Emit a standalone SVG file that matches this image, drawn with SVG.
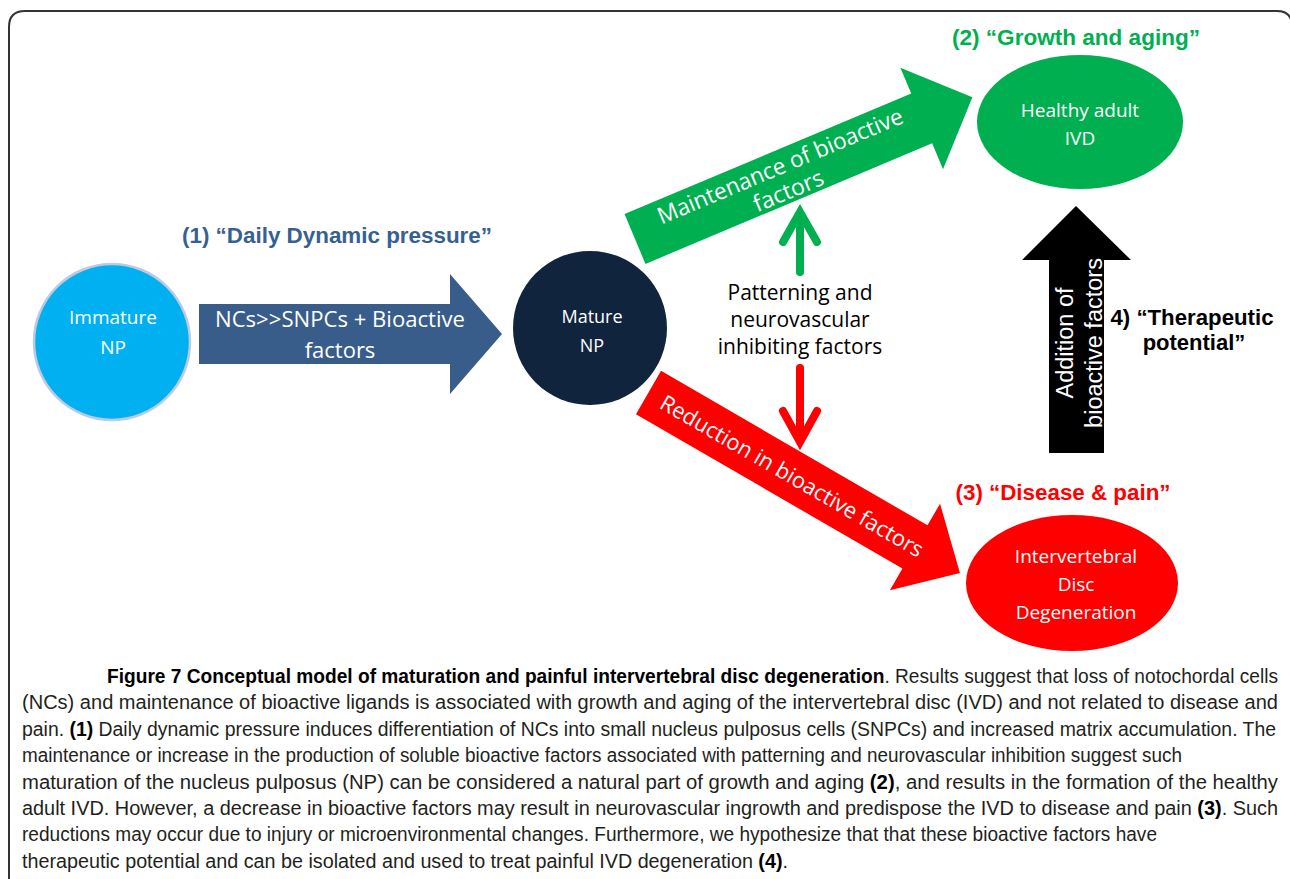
<svg xmlns="http://www.w3.org/2000/svg" width="1290" height="879" viewBox="0 0 1290 879">
<style>
.lbl{font-family:"Open Sans","Noto Sans",sans-serif;fill:#fff;text-anchor:middle}
.hdr{font-family:"Liberation Sans",Arial,sans-serif;font-weight:bold;text-anchor:middle}
.vt{font-family:"Liberation Sans",Arial,sans-serif;fill:#fff;text-anchor:middle;font-size:23.5px}
.cap{font-family:"Liberation Sans Narrow","Liberation Sans",Arial,sans-serif;font-size:19.5px;fill:#231f20}
.cap tspan.b{font-weight:bold;fill:#000}
.dark{fill:#000}
</style>
<rect width="1290" height="879" fill="#fff"/>
<path d="M9,879 V27 Q9,11 25,11 H1277 Q1292,11 1292,26 V879" fill="none" stroke="#333" stroke-width="2"/>

<g id="connectors">
  <g id="arrow-blue">
    <polygon points="199,304 450,304 450,274 502,334 450,394 450,364 199,364" fill="#385d8a"/>
    <text class="lbl" x="340" y="327" font-size="22" textLength="250" lengthAdjust="spacingAndGlyphs">NCs&gt;&gt;SNPCs + Bioactive</text>
    <text class="lbl" x="340" y="358" font-size="22">factors</text>
  </g>
  <g id="arrow-green" transform="translate(635,239) rotate(-22.8)">
    <path d="M0,-27 H311 V-55 L366,0 L311,55 V27 H0 Z" fill="#00b050"/>
    <text class="lbl" x="162" y="-3" font-size="23" textLength="264" lengthAdjust="spacingAndGlyphs">Maintenance of bioactive</text>
    <text class="lbl" x="160" y="23" font-size="23">factors</text>
  </g>
  <g id="arrow-red" transform="translate(648.5,392.5) rotate(30.1)">
    <path d="M0,-25 H308 V-50 L360,0 L308,50 V25 H0 Z" fill="#ff0000"/>
    <text class="lbl" x="166" y="8" font-size="22" textLength="300" lengthAdjust="spacingAndGlyphs">Reduction in bioactive factors</text>
  </g>
  <g id="arrow-black">
    <polygon points="1049,453 1104,453 1104,260 1131,260 1076,206 1022,260 1049,260" fill="#000"/>
    <text class="vt" transform="translate(1073,343) rotate(-90)">Addition of</text>
    <text class="vt" transform="translate(1102,343) rotate(-90)">bioactive factors</text>
  </g>
  <g id="arrow-small-green" fill="none" stroke="#00b050" stroke-width="8" stroke-linecap="round">
    <line x1="800" y1="272" x2="800" y2="214"/>
    <polyline points="783,242 800,212 817,242"/>
  </g>
  <g id="arrow-small-red" fill="none" stroke="#ff0000" stroke-width="8" stroke-linecap="round">
    <line x1="800" y1="368" x2="800" y2="440"/>
    <polyline points="783,411 800,442 817,411"/>
  </g>
</g>

<g id="node-immature">
  <circle cx="112" cy="342" r="78" fill="#00b0f0" stroke="#bccbe0" stroke-width="2.5"/>
  <text class="lbl" x="113" y="324" font-size="19">Immature</text>
  <text class="lbl" x="113" y="354" font-size="19">NP</text>
</g>

<g id="node-mature">
  <circle cx="590" cy="328" r="77" fill="#10243e"/>
  <text class="lbl" x="592" y="323" font-size="18">Mature</text>
  <text class="lbl" x="592" y="352" font-size="18">NP</text>
</g>

<g id="node-healthy">
  <ellipse cx="1080" cy="122" rx="103" ry="67" fill="#00b050"/>
  <text class="lbl" x="1080" y="117" font-size="19">Healthy adult</text>
  <text class="lbl" x="1080" y="145" font-size="19">IVD</text>
</g>

<g id="node-degeneration">
  <ellipse cx="1072" cy="583" rx="106" ry="68" fill="#ff0000"/>
  <text class="lbl" x="1076" y="563" font-size="19">Intervertebral</text>
  <text class="lbl" x="1076" y="591" font-size="19">Disc</text>
  <text class="lbl" x="1076" y="619" font-size="19">Degeneration</text>
</g>

<g id="label-patterning">
  <text class="lbl dark" x="800" y="300" font-size="21">Patterning and</text>
  <text class="lbl dark" x="800" y="327" font-size="21">neurovascular</text>
  <text class="lbl dark" x="800" y="354" font-size="21">inhibiting factors</text>
</g>

<g id="headers">
  <text class="hdr" x="337" y="243" font-size="22" fill="#376092" textLength="310" lengthAdjust="spacingAndGlyphs">(1) “Daily Dynamic pressure”</text>
  <text class="hdr" x="1076" y="45" font-size="22" fill="#00b050" textLength="248" lengthAdjust="spacingAndGlyphs">(2) “Growth and aging”</text>
  <text class="hdr" x="1063" y="500" font-size="22" fill="#ff0000" textLength="215" lengthAdjust="spacingAndGlyphs">(3) “Disease &amp; pain”</text>
  <text class="hdr" x="1192" y="325" font-size="22" fill="#000" textLength="163" lengthAdjust="spacingAndGlyphs">4) “Therapeutic</text>
  <text class="hdr" x="1194" y="350" font-size="22" fill="#000">potential”</text>
</g>

<g id="caption">
  <text class="cap" x="107" y="683" textLength="1171" lengthAdjust="spacingAndGlyphs"><tspan class="b">Figure 7 Conceptual model of maturation and painful intervertebral disc degeneration</tspan>. Results suggest that loss of notochordal cells</text>
  <text class="cap" x="22" y="709.4" textLength="1256" lengthAdjust="spacingAndGlyphs">(NCs) and maintenance of bioactive ligands is associated with growth and aging of the intervertebral disc (IVD) and not related to disease and</text>
  <text class="cap" x="22" y="735.8" textLength="1254" lengthAdjust="spacingAndGlyphs">pain. <tspan class="b">(1)</tspan> Daily dynamic pressure induces differentiation of NCs into small nucleus pulposus cells (SNPCs) and increased matrix accumulation. The</text>
  <text class="cap" x="22" y="762.2" textLength="1160" lengthAdjust="spacingAndGlyphs">maintenance or increase in the production of soluble bioactive factors associated with patterning and neurovascular inhibition suggest such</text>
  <text class="cap" x="22" y="788.6" textLength="1256" lengthAdjust="spacingAndGlyphs">maturation of the nucleus pulposus (NP) can be considered a natural part of growth and aging <tspan class="b">(2)</tspan>, and results in the formation of the healthy</text>
  <text class="cap" x="22" y="815" textLength="1256" lengthAdjust="spacingAndGlyphs">adult IVD. However, a decrease in bioactive factors may result in neurovascular ingrowth and predispose the IVD to disease and pain <tspan class="b">(3)</tspan>. Such</text>
  <text class="cap" x="22" y="841.4" textLength="1135" lengthAdjust="spacingAndGlyphs">reductions may occur due to injury or microenvironmental changes. Furthermore, we hypothesize that that these bioactive factors have</text>
  <text class="cap" x="22" y="867.8" textLength="766" lengthAdjust="spacingAndGlyphs">therapeutic potential and can be isolated and used to treat painful IVD degeneration <tspan class="b">(4)</tspan>.</text>
</g>
</svg>
